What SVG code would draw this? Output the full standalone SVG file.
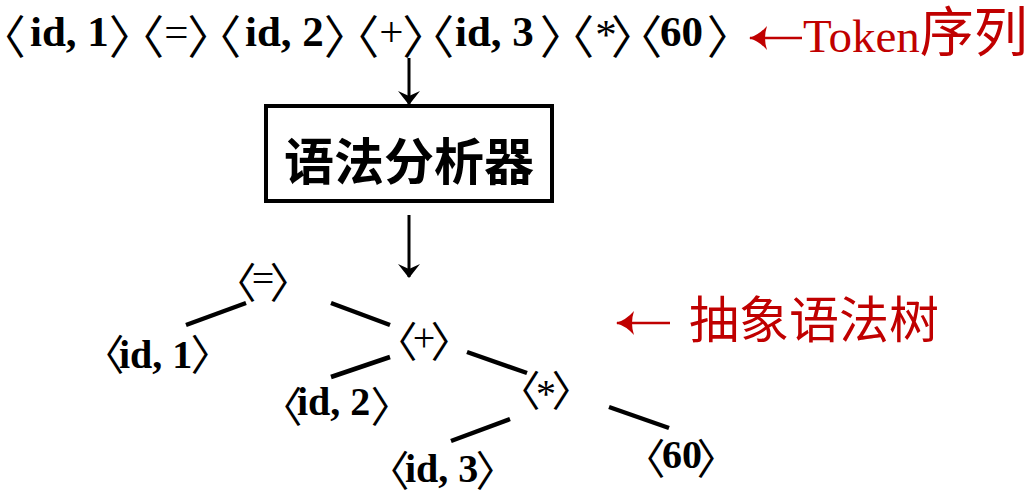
<svg xmlns="http://www.w3.org/2000/svg" width="1035" height="497" viewBox="0 0 1035 497">
<style>
.b{font-family:"Noto Sans CJK SC",sans-serif;font-weight:normal;text-anchor:middle;fill:#000;font-feature-settings:"palt"}
.t{font-family:"Liberation Serif","Times New Roman",serif;font-weight:bold;fill:#000;text-anchor:start}
.m{font-family:"Liberation Serif","Times New Roman",serif;font-weight:normal;fill:#000;text-anchor:middle}
.top{font-size:43px}
.tb{font-size:46px}
.tree{font-size:40px}
.trb{font-size:42px}
.red{font-family:"Liberation Serif","Noto Sans CJK SC",serif;fill:#c00000}
.edge{stroke:#000;stroke-width:4.5;fill:none}
.arr{stroke:#000;stroke-width:3;fill:none}
</style>
<defs>
<marker id="ah" markerWidth="14" markerHeight="22" refX="13" refY="11" markerUnits="userSpaceOnUse" orient="auto" viewBox="0 0 14 22">
<path d="M0,0 L14,11 L0,22 L5,11 Z" fill="#000"/>
</marker>
<marker id="rh" markerWidth="18" markerHeight="24" refX="17" refY="12" markerUnits="userSpaceOnUse" orient="auto" viewBox="0 0 18 24">
<path d="M0,0 Q8,9 18,12 Q8,15 0,24 Q4,12 0,0 Z" fill="#c00000"/>
</marker>
</defs>

<g id="tokens">
<g id="tok1"><text><tspan class="b tb" x="13" y="53">〈</tspan><tspan class="t top" x="30" y="46">id, 1</tspan><tspan class="b tb" x="121.5" y="53">〉</tspan></text></g>
<g id="tok2"><text><tspan class="b tb" x="151.5" y="53">〈</tspan><tspan class="m top" x="176.5" y="46">=</tspan><tspan class="b tb" x="200" y="53">〉</tspan></text></g>
<g id="tok3"><text><tspan class="b tb" x="228.5" y="53">〈</tspan><tspan class="t top" x="245" y="46">id, 2</tspan><tspan class="b tb" x="336.5" y="53">〉</tspan></text></g>
<g id="tok4"><text><tspan class="b tb" x="366.5" y="53">〈</tspan><tspan class="m top" x="391.5" y="46">+</tspan><tspan class="b tb" x="415" y="53">〉</tspan></text></g>
<g id="tok5"><text><tspan class="b tb" x="441.5" y="53">〈</tspan><tspan class="t top" x="455" y="46">id, 3</tspan><tspan class="b tb" x="552.5" y="53">〉</tspan></text></g>
<g id="tok6"><text><tspan class="b tb" x="581.5" y="53">〈</tspan><tspan class="m top" x="606" y="49">*</tspan><tspan class="b tb" x="623.5" y="53">〉</tspan></text></g>
<g id="tok7"><text><tspan class="b tb" x="649.5" y="53">〈</tspan><tspan class="t top" x="660" y="46">60</tspan><tspan class="b tb" x="719.5" y="53">〉</tspan></text></g>
</g>

<g id="token-label">
<line x1="802" y1="38" x2="750" y2="38" stroke="#c00000" stroke-width="2.5" marker-end="url(#rh)"/>
<text class="red" x="803" y="52" font-size="47">Token<tspan font-size="54">序列</tspan></text>
</g>

<g id="parser">
<rect x="266" y="106" width="286" height="95" fill="#fff" stroke="#000" stroke-width="4"/>
<text x="409" y="180" font-family="'Noto Sans CJK SC',sans-serif" font-weight="bold" font-size="50" text-anchor="middle">语法分析器</text>
</g>

<g id="connectors">
<line class="arr" x1="409" y1="58" x2="409" y2="104" marker-end="url(#ah)"/>
<line class="arr" x1="409" y1="215" x2="409" y2="277" marker-end="url(#ah)"/>
<line class="edge" x1="186" y1="325" x2="246" y2="303"/>
<line class="edge" x1="331" y1="303" x2="390" y2="325"/>
<line class="edge" x1="390" y1="357" x2="331" y2="377"/>
<line class="edge" x1="467" y1="352" x2="527" y2="373"/>
<line class="edge" x1="510" y1="419" x2="451" y2="441"/>
<line class="edge" x1="609" y1="407" x2="669" y2="428"/>
</g>

<g id="n-assign"><text><tspan class="b trb" x="245" y="298">〈</tspan><tspan class="m tree" x="263" y="292">=</tspan><tspan class="b trb" x="281" y="298">〉</tspan></text></g>
<g id="n-id1"><text><tspan class="b trb" x="113" y="370">〈</tspan><tspan class="t tree" x="119" y="368">id, 1</tspan><tspan class="b trb" x="202" y="370">〉</tspan></text></g>
<g id="n-plus"><text><tspan class="b trb" x="406" y="357">〈</tspan><tspan class="m tree" x="424" y="351">+</tspan><tspan class="b trb" x="442" y="357">〉</tspan></text></g>
<g id="n-id2"><text><tspan class="b trb" x="291" y="422">〈</tspan><tspan class="t tree" x="297" y="415">id, 2</tspan><tspan class="b trb" x="382" y="422">〉</tspan></text></g>
<g id="n-mul"><text><tspan class="b trb" x="529" y="406">〈</tspan><tspan class="m tree" x="546" y="407">*</tspan><tspan class="b trb" x="563" y="406">〉</tspan></text></g>
<g id="n-id3"><text><tspan class="b trb" x="398" y="486">〈</tspan><tspan class="t tree" x="405" y="482">id, 3</tspan><tspan class="b trb" x="487" y="486">〉</tspan></text></g>
<g id="n-60"><text><tspan class="b trb" x="654" y="474">〈</tspan><tspan class="t tree" x="662" y="468">60</tspan><tspan class="b trb" x="708" y="474">〉</tspan></text></g>

<g id="ast-label">
<line x1="670" y1="323" x2="617" y2="323" stroke="#c00000" stroke-width="2.5" marker-end="url(#rh)"/>
<text class="red" x="689" y="338" font-size="50" font-family="'Noto Sans CJK SC',serif">抽象语法树</text>
</g>
</svg>
